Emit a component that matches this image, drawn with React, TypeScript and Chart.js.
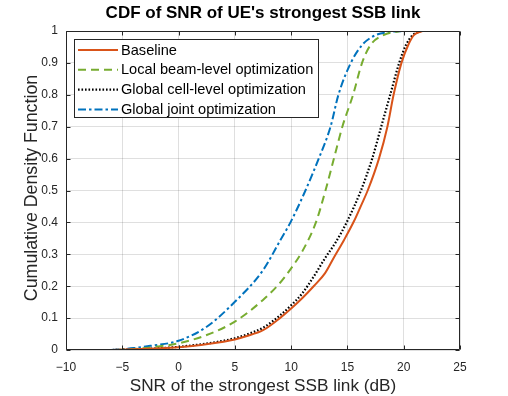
import React, { useEffect, useRef } from 'react';
import { Chart, registerables } from 'chart.js';

Chart.register(...registerables);

const titleText = "CDF of SNR of UE's strongest SSB link";
const xTitle = 'SNR of the strongest SSB link (dB)';
const yTitle = 'Cumulative Density Function';

const seriesLabels = [
  'Baseline',
  'Local beam-level optimization',
  'Global cell-level optimization',
  'Global joint optimization',
];

const baselineX = [-5.9, -4, -2, 0, 2, 4, 5, 6, 7.5, 9, 10, 11, 12, 13, 13.8, 14.7, 15.6, 16.2, 16.8, 17.8, 18.55, 19.1, 19.8, 20.4, 20.9, 21.65];
const baselineY = [0, 0.002, 0.005, 0.009, 0.016, 0.026, 0.033, 0.043, 0.062, 0.1, 0.13, 0.163, 0.2, 0.24, 0.29, 0.345, 0.405, 0.452, 0.5, 0.6, 0.7, 0.8, 0.9, 0.956, 0.987, 1];

const localX = [-5.5, -4, -2, 0, 2.5, 5, 7.5, 9, 10, 11, 12.2, 13.05, 13.8, 14.55, 15.5, 16.3, 17.05, 18.2, 19.7];
const localY = [0, 0.003, 0.01, 0.021, 0.047, 0.089, 0.157, 0.21, 0.256, 0.31, 0.4, 0.5, 0.6, 0.7, 0.8, 0.9, 0.956, 0.987, 1];

const cellX = [-5.9, -4, -2, 0, 2, 4, 5, 6, 7.5, 9, 10, 11, 12, 13.05, 14, 15, 16.2, 17.2, 18, 18.8, 19.6, 20.2, 20.8, 21.5];
const cellY = [0, 0.002, 0.005, 0.01, 0.018, 0.029, 0.037, 0.048, 0.07, 0.108, 0.14, 0.178, 0.23, 0.29, 0.34, 0.405, 0.5, 0.6, 0.7, 0.8, 0.9, 0.956, 0.987, 1];

const jointX = [-6, -4, -2.5, 0, 2.5, 5, 7.5, 9.05, 9.94, 11.27, 12.45, 13.5, 14.2, 15.3, 16.3, 17.5, 18.8, 20];
const jointY = [0, 0.006, 0.013, 0.029, 0.073, 0.151, 0.25, 0.345, 0.4, 0.5, 0.6, 0.7, 0.8, 0.9, 0.956, 0.987, 0.997, 1];

const xTickValues = [-10, -5, 0, 5, 10, 15, 20, 25];
const yTickValues = [0, 0.1, 0.2, 0.3, 0.4, 0.5, 0.6, 0.7, 0.8, 0.9, 1];

const colors = ['#D95319', '#77AC30', '#000000', '#0072BD'];
const dashes = [[], [8, 5], [1.6, 1.9], [8, 3, 2.5, 3]];
const FONT = '"Liberation Sans", Arial, Helvetica, sans-serif';
const AXIS = '#262626';

const toPoints = (xs: number[], ys: number[]) => xs.map((x, i) => ({ x, y: ys[i] }));
const fmtX = (v: number) => (v < 0 ? '\u2212' + String(Math.abs(v)) : String(v));
const fmtY = (v: number) => String(Math.round(v * 10) / 10);

const decorPlugin = {
  id: 'decor',
  afterDatasetsDraw(chart: any) {
    const { ctx, chartArea: a, scales } = chart;
    ctx.save();
    const L = Math.round(a.left) + 0.5;
    const R = Math.round(a.right) - 0.5;
    const T = Math.round(a.top) + 0.5;
    const B = Math.round(a.bottom) - 0.5;
    ctx.strokeStyle = AXIS;
    ctx.lineWidth = 1;
    ctx.setLineDash([]);
    ctx.beginPath();
    ctx.rect(L, T, R - L, B - T);
    ctx.stroke();
    ctx.beginPath();
    xTickValues.forEach((v) => {
      const p = Math.round(scales.x.getPixelForValue(v)) + 0.5;
      ctx.moveTo(p, B);
      ctx.lineTo(p, B - 4);
      ctx.moveTo(p, T);
      ctx.lineTo(p, T + 4);
    });
    yTickValues.forEach((v) => {
      const p = Math.round(scales.y.getPixelForValue(v)) + 0.5;
      ctx.moveTo(L, p);
      ctx.lineTo(L + 4, p);
      ctx.moveTo(R, p);
      ctx.lineTo(R - 4, p);
    });
    ctx.stroke();

    // legend
    const lx = 74.5, ly = 39.5, lw = 244, lh = 78;
    ctx.fillStyle = '#ffffff';
    ctx.fillRect(lx, ly, lw, lh);
    ctx.strokeStyle = AXIS;
    ctx.strokeRect(lx, ly, lw, lh);
    ctx.font = `14.6px ${FONT}`;
    ctx.textBaseline = 'middle';
    ctx.textAlign = 'left';
    chart.data.datasets.forEach((ds: any, i: number) => {
      const y = 50 + i * 19.8;
      ctx.strokeStyle = ds.borderColor;
      ctx.lineWidth = ds.borderWidth;
      ctx.setLineDash(ds.borderDash || []);
      ctx.beginPath();
      ctx.moveTo(78, y);
      ctx.lineTo(118, y);
      ctx.stroke();
      ctx.setLineDash([]);
      ctx.fillStyle = '#000000';
      ctx.fillText(ds.label, 121, y + 0.5);
    });

    // titles
    const cx = (a.left + a.right) / 2;
    ctx.fillStyle = '#000000';
    ctx.textAlign = 'center';
    ctx.textBaseline = 'middle';
    ctx.font = `bold 17px ${FONT}`;
    ctx.fillText(titleText, cx, 13);
    ctx.fillStyle = AXIS;
    ctx.font = `17.2px ${FONT}`;
    ctx.fillText(xTitle, cx, 386.5);
    ctx.save();
    ctx.font = `17.8px ${FONT}`;
    ctx.translate(32.5, 188);
    ctx.rotate(-Math.PI / 2);
    ctx.fillText(yTitle, 0, 0);
    ctx.restore();
    ctx.restore();
  },
};

export default function App() {
  const ref = useRef<HTMLCanvasElement | null>(null);
  useEffect(() => {
    document.body.style.margin = '0';
    const canvas = ref.current;
    if (!canvas) return;
    const seriesX = [baselineX, localX, cellX, jointX];
    const seriesY = [baselineY, localY, cellY, jointY];
    const chart = new Chart(canvas, {
      type: 'line',
      data: {
        datasets: seriesLabels.map((label, i) => ({
          label,
          data: toPoints(seriesX[i], seriesY[i]),
          borderColor: colors[i],
          backgroundColor: colors[i],
          borderWidth: i === 2 ? 2.2 : 2,
          borderDash: dashes[i],
          pointRadius: 0,
          fill: false,
          cubicInterpolationMode: 'monotone',
        })),
      },
      options: {
        responsive: false,
        animation: false,
        devicePixelRatio: 1,
        layout: { padding: { top: 31, right: 48, bottom: 0, left: 0 } },
        plugins: {
          legend: { display: false },
          title: { display: false },
          tooltip: { enabled: false },
        },
        scales: {
          x: {
            type: 'linear',
            min: -10,
            max: 25,
            afterFit: (s: any) => { s.height = 46; },
            afterBuildTicks: (s: any) => { s.ticks = xTickValues.map((v) => ({ value: v })); },
            ticks: {
              autoSkip: false, maxRotation: 0, padding: 10, color: AXIS,
              font: { family: FONT, size: 12 },
              callback: (v: any) => fmtX(Number(v)),
            },
            grid: { color: 'rgba(38,38,38,0.15)', drawTicks: false },
            border: { display: false },
          },
          y: {
            type: 'linear',
            min: 0,
            max: 1,
            afterFit: (s: any) => { s.width = 66; },
            afterBuildTicks: (s: any) => { s.ticks = yTickValues.map((v) => ({ value: v })); },
            ticks: {
              padding: 8, color: AXIS,
              font: { family: FONT, size: 12 },
              callback: (v: any) => fmtY(Number(v)),
            },
            grid: { color: 'rgba(38,38,38,0.15)', drawTicks: false },
            border: { display: false },
          },
        },
      },
      plugins: [decorPlugin],
    } as any);
    return () => chart.destroy();
  }, []);
  return (
    <div style={{ width: 508, height: 396 }}>
      <canvas ref={ref} width={508} height={396} />
    </div>
  );
}
